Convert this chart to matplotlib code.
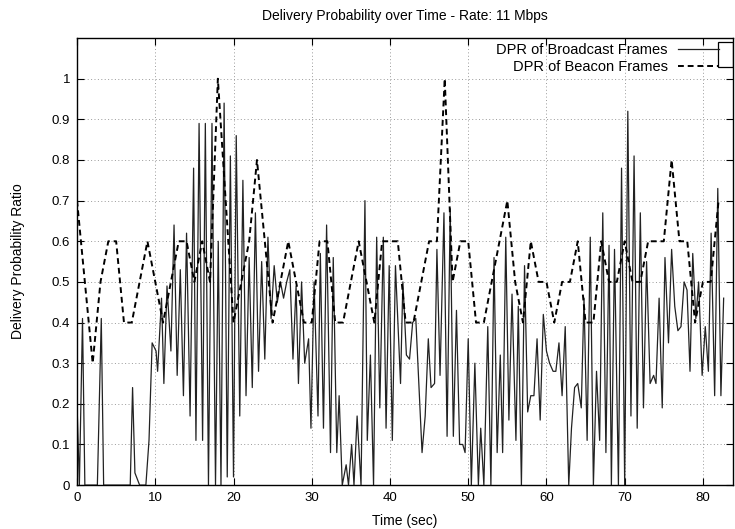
import matplotlib
matplotlib.use("Agg")
import matplotlib.pyplot as plt
from matplotlib.patches import Rectangle

plt.rcParams['font.family'] = ['Liberation Sans', 'DejaVu Sans']

# Beacon frames: one DPR value per second
beacon_time = list(range(83))
beacon_dpr = [0.7, 0.5, 0.3, 0.5, 0.6, 0.6, 0.4, 0.4, 0.5, 0.6,
              0.5, 0.4, 0.5, 0.6, 0.6, 0.5, 0.6, 0.5, 1.0, 0.7,
              0.4, 0.5, 0.6, 0.8, 0.6, 0.4, 0.5, 0.6, 0.5, 0.4,
              0.4, 0.6, 0.6, 0.4, 0.4, 0.5, 0.6, 0.5, 0.4, 0.6,
              0.6, 0.6, 0.4, 0.4, 0.5, 0.6, 0.6, 1.0, 0.5, 0.6,
              0.6, 0.4, 0.4, 0.5, 0.6, 0.7, 0.5, 0.4, 0.6, 0.5,
              0.5, 0.4, 0.5, 0.5, 0.6, 0.4, 0.4, 0.6, 0.5, 0.5,
              0.6, 0.5, 0.5, 0.6, 0.6, 0.6, 0.8, 0.6, 0.6, 0.4,
              0.5, 0.5, 0.7]

# Broadcast frames
broadcast_time = [0.0, 0.3, 0.7, 1.0, 2.6, 3.1, 3.4, 6.8, 7.1, 7.4,
                  8.0, 8.8, 9.2, 9.6, 10.1, 10.3, 10.8, 11.1, 11.5, 12.0,
                  12.4, 12.8, 13.2, 13.6, 14.0, 14.45, 14.9, 15.2, 15.6, 16.05,
                  16.4, 16.8, 17.25, 17.7, 18.05, 18.4, 18.8, 19.2, 19.6, 20.0,
                  20.35, 20.8, 21.2, 21.6, 22.0, 22.4, 22.8, 23.2, 23.6, 24.0,
                  24.4, 24.8, 25.2, 25.6, 26.0, 26.4, 26.8, 27.2, 27.6, 28.0,
                  28.3, 28.7, 29.1, 29.6, 29.9, 30.3, 30.8, 31.1, 31.5, 31.9,
                  32.4, 32.75, 33.2, 33.5, 33.9, 34.4, 34.7, 35.1, 35.4, 35.8,
                  36.3, 36.8, 37.1, 37.5, 37.9, 38.3, 38.7, 39.15, 39.5, 39.9,
                  40.3, 40.7, 41.35, 41.65, 42.1, 42.5, 42.9, 43.3, 44.1, 44.5,
                  44.9, 45.25, 45.7, 46.0, 46.4, 46.9, 47.3, 47.7, 48.1, 48.5,
                  48.9, 49.3, 49.6, 50.0, 50.4, 50.85, 51.3, 51.6, 52.0, 52.5,
                  52.9, 53.3, 53.7, 54.1, 54.4, 54.8, 55.2, 55.6, 56.1, 56.4,
                  56.8, 57.2, 57.6, 58.0, 58.4, 58.8, 59.2, 59.6, 60.0, 60.4,
                  60.85, 61.2, 61.6, 62.0, 62.4, 62.85, 63.2, 63.6, 64.0, 64.45,
                  64.8, 65.2, 65.6, 66.0, 66.4, 66.8, 67.2, 67.6, 68.0, 68.3,
                  68.7, 69.2, 69.6, 70.0, 70.4, 70.8, 71.2, 71.6, 72.0, 72.4,
                  72.8, 73.25, 73.7, 74.0, 74.4, 74.8, 75.15, 75.6, 76.0, 76.4,
                  76.8, 77.2, 77.6, 77.97, 78.35, 78.7, 79.1, 79.45, 79.9, 80.3,
                  80.7, 81.05, 81.5, 81.9, 82.3, 82.65]
broadcast_dpr = [0.20, 0.0, 0.41, 0.0, 0.0, 0.41, 0.0, 0.0, 0.24, 0.03,
                 0.0, 0.0, 0.11, 0.35, 0.33, 0.28, 0.46, 0.25, 0.49, 0.33,
                 0.64, 0.27, 0.53, 0.22, 0.62, 0.17, 0.78, 0.11, 0.89, 0.11,
                 0.89, 0.0, 0.89, 0.0, 0.60, 0.0, 0.94, 0.02, 0.81, 0.02,
                 0.86, 0.17, 0.75, 0.22, 0.56, 0.24, 0.67, 0.28, 0.55, 0.31,
                 0.61, 0.41, 0.54, 0.45, 0.50, 0.46, 0.50, 0.53, 0.31, 0.49,
                 0.25, 0.50, 0.30, 0.36, 0.14, 0.50, 0.17, 0.57, 0.14, 0.64,
                 0.08, 0.56, 0.08, 0.22, 0.0, 0.05, 0.0, 0.10, 0.0, 0.17,
                 0.0, 0.70, 0.11, 0.32, 0.0, 0.61, 0.19, 0.61, 0.14, 0.54,
                 0.11, 0.54, 0.25, 0.50, 0.32, 0.31, 0.40, 0.41, 0.08, 0.17,
                 0.36, 0.24, 0.25, 0.58, 0.27, 0.67, 0.12, 0.68, 0.12, 0.43,
                 0.10, 0.10, 0.08, 0.36, 0.0, 0.30, 0.0, 0.14, 0.0, 0.39,
                 0.0, 0.56, 0.08, 0.32, 0.08, 0.61, 0.16, 0.47, 0.11, 0.44,
                 0.0, 0.54, 0.18, 0.22, 0.22, 0.36, 0.16, 0.42, 0.33, 0.30,
                 0.28, 0.28, 0.35, 0.22, 0.39, 0.0, 0.14, 0.24, 0.25, 0.19,
                 0.46, 0.11, 0.61, 0.0, 0.28, 0.11, 0.67, 0.08, 0.59, 0.0,
                 0.58, 0.0, 0.78, 0.0, 0.92, 0.17, 0.81, 0.14, 0.67, 0.19,
                 0.55, 0.25, 0.27, 0.25, 0.46, 0.19, 0.56, 0.35, 0.58, 0.44,
                 0.38, 0.39, 0.50, 0.48, 0.28, 0.57, 0.41, 0.50, 0.27, 0.39,
                 0.28, 0.62, 0.22, 0.73, 0.22, 0.46]

x_ticks = [0, 10, 20, 30, 40, 50, 60, 70, 80]
y_ticks = [0, 0.1, 0.2, 0.3, 0.4, 0.5, 0.6, 0.7, 0.8, 0.9, 1]
y_tick_labels = ['0', '0.1', '0.2', '0.3', '0.4', '0.5', '0.6', '0.7', '0.8', '0.9', '1']

fig = plt.figure(figsize=(7.35, 5.29), dpi=100)
ax = fig.add_axes([0.1048, 0.083, 0.892, 0.845])

ax.plot(broadcast_time, broadcast_dpr, color='#222222', lw=0.9,
        label='DPR of Broadcast Frames')
ax.plot(beacon_time, beacon_dpr, color='black', lw=1.4, ls=(0, (3, 2)),
        label='DPR of Beacon Frames')

ax.set_xlim(0, 83.8)
ax.set_ylim(0, 1.1)
ax.set_xticks(x_ticks)
ax.set_yticks(y_ticks)
ax.set_yticklabels(y_tick_labels)
ax.tick_params(direction='in', length=5, width=0.8, top=True, right=True,
               labelsize=9.5, pad=5)
ax.grid(True, color='#9a9a9a', lw=0.7, ls=(0, (1, 2.5)))
for spine in ax.spines.values():
    spine.set_linewidth(1.0)

ax.set_title('Delivery Probability over Time - Rate: 11 Mbps', fontsize=10, pad=13)
ax.set_xlabel('Time (sec)', fontsize=10, labelpad=7)
ax.set_ylabel('Delivery Probability Ratio', fontsize=10, labelpad=19)

ax.legend(loc='upper right', bbox_to_anchor=(0.983, 0.996), frameon=False,
          markerfirst=False, fontsize=10.5, handlelength=2.8, handletextpad=0.7,
          labelspacing=0.2, borderaxespad=0.0, borderpad=0.2)
# the small gnuplot key box at the right edge
ax.add_patch(Rectangle((0.977, 0.935), 0.023, 0.056, transform=ax.transAxes,
                       fill=False, lw=0.9, ec='black', zorder=5))

fig.savefig('out.png', dpi=100)
